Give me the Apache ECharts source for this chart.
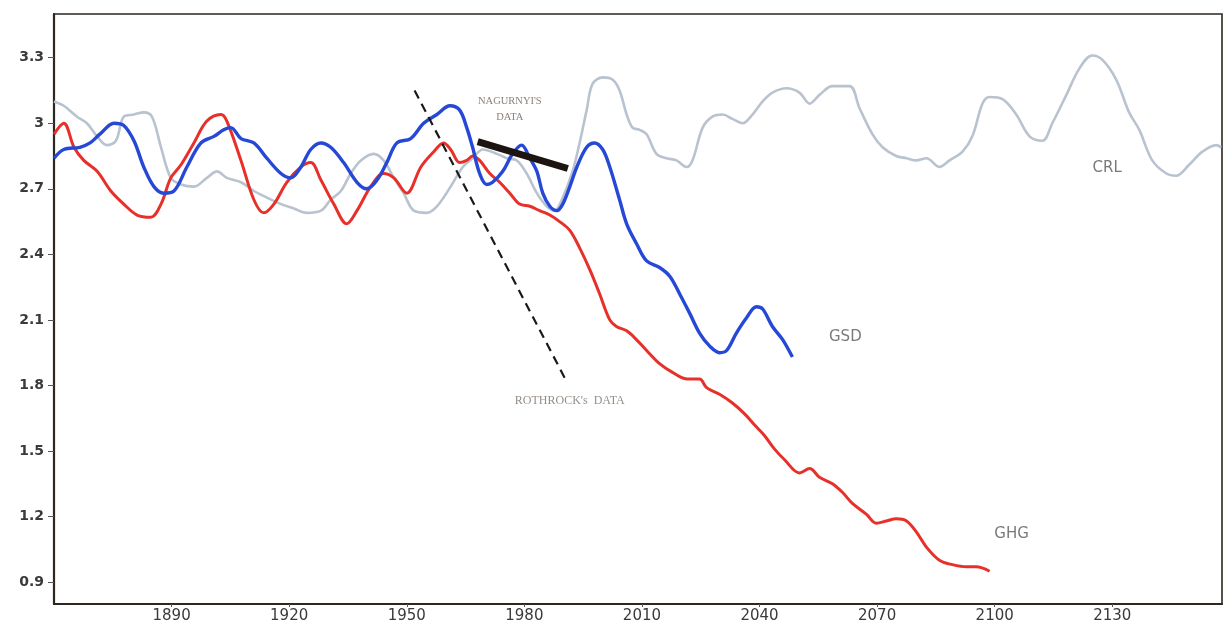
<!DOCTYPE html>
<html>
<head>
<meta charset="utf-8">
<script src="https://cdn.jsdelivr.net/npm/echarts@6/dist/echarts.min.js"></script>
<style>
  html, body { margin: 0; padding: 0; background: #ffffff; }
  #chart { width: 1226px; height: 621px; }
</style>
</head>
<body>
<div id="chart"></div>
<script>
// Axis tick labels
const yearTicks = [1890, 1920, 1950, 1980, 2010, 2040, 2070, 2100, 2130];
const valueTicks = [0.9, 1.2, 1.5, 1.8, 2.1, 2.4, 2.7, 3, 3.3];

// CRL series
const crlYears = [1860, 1862.5, 1865.9, 1868.4, 1871, 1873.5, 1875.8, 1877.8, 1880.4, 1882.9, 1885, 1887.3, 1889.8, 1892.4, 1895.7, 1899, 1901.6, 1904.1, 1907.7, 1911, 1914.3, 1917.9, 1921.2, 1924.5, 1928.1, 1930.6, 1933.2, 1935.7, 1938.3, 1941.6, 1944.1, 1946.7, 1949.2, 1951.8, 1955.1, 1957.7, 1961.2, 1964.3, 1966.8, 1969.4, 1973, 1975.5, 1978.1, 1980.6, 1983.2, 1985.7, 1987.7, 1989.8, 1992.3, 1994.1, 1995.9, 1997.4, 2000, 2002.5, 2004.3, 2006.1, 2007.6, 2009.4, 2011.2, 2013.7, 2016.3, 2018.8, 2021.4, 2022.9, 2025.5, 2028, 2030.6, 2033.1, 2035.7, 2038.2, 2040.8, 2043.3, 2046.9, 2050.2, 2052.8, 2055.3, 2058.6, 2063, 2065.5, 2068.8, 2071.4, 2074.9, 2077.5, 2080, 2082.6, 2085.9, 2088.5, 2091.8, 2094.3, 2096.9, 2098.7, 2102, 2105.5, 2108.9, 2112.2, 2114.7, 2118.3, 2121.6, 2124.9, 2127.5, 2131, 2134.3, 2136.9, 2140.2, 2143.8, 2146.3, 2149.6, 2153, 2156.5, 2157.8];
const crlValues = [3.10, 3.08, 3.03, 3.00, 2.94, 2.90, 2.92, 3.03, 3.04, 3.05, 3.03, 2.89, 2.75, 2.72, 2.71, 2.75, 2.78, 2.75, 2.73, 2.69, 2.66, 2.63, 2.61, 2.59, 2.60, 2.65, 2.69, 2.77, 2.83, 2.86, 2.83, 2.75, 2.68, 2.60, 2.59, 2.62, 2.71, 2.80, 2.84, 2.88, 2.86, 2.84, 2.83, 2.77, 2.68, 2.62, 2.60, 2.66, 2.78, 2.91, 3.06, 3.18, 3.21, 3.20, 3.15, 3.04, 2.98, 2.97, 2.95, 2.86, 2.84, 2.83, 2.80, 2.83, 2.98, 3.03, 3.04, 3.02, 3.00, 3.04, 3.10, 3.14, 3.16, 3.14, 3.09, 3.13, 3.17, 3.17, 3.07, 2.95, 2.89, 2.85, 2.84, 2.83, 2.84, 2.80, 2.83, 2.87, 2.94, 3.09, 3.12, 3.11, 3.04, 2.94, 2.92, 3.00, 3.13, 3.25, 3.31, 3.29, 3.20, 3.05, 2.97, 2.83, 2.77, 2.76, 2.81, 2.87, 2.90, 2.89];

// GSD series
const gsdYears = [1860, 1862.5, 1866.6, 1869.2, 1871.7, 1875.3, 1877.8, 1880.4, 1882.9, 1885.5, 1888, 1890.6, 1893.9, 1897.5, 1900.8, 1903.3, 1905.1, 1907.7, 1911, 1914.3, 1917.9, 1920.4, 1923, 1925.5, 1928.1, 1930.6, 1933.9, 1937.3, 1939.8, 1942.4, 1944.9, 1947.5, 1951, 1954.3, 1957.7, 1961, 1963.5, 1965.3, 1966.8, 1968.6, 1970.4, 1971.9, 1974.5, 1977, 1979.3, 1981.4, 1983.2, 1984.7, 1986.5, 1988.3, 1989.8, 1991.6, 1993.4, 1995.9, 1997.9, 2000, 2001.8, 2004.3, 2006.1, 2008.6, 2011.2, 2014.5, 2017.1, 2019.6, 2022.2, 2024.7, 2027.3, 2029.8, 2031.6, 2034.1, 2036.7, 2039.2, 2040.8, 2043.3, 2045.9, 2048.4];
const gsdValues = [2.84, 2.88, 2.89, 2.91, 2.95, 3.00, 2.99, 2.92, 2.80, 2.71, 2.68, 2.69, 2.80, 2.91, 2.94, 2.97, 2.98, 2.93, 2.91, 2.84, 2.77, 2.75, 2.80, 2.88, 2.91, 2.89, 2.82, 2.73, 2.70, 2.74, 2.82, 2.91, 2.93, 3.00, 3.04, 3.08, 3.06, 2.98, 2.89, 2.77, 2.72, 2.73, 2.78, 2.86, 2.90, 2.84, 2.78, 2.68, 2.62, 2.60, 2.63, 2.71, 2.80, 2.89, 2.91, 2.88, 2.80, 2.65, 2.54, 2.45, 2.37, 2.34, 2.30, 2.22, 2.13, 2.04, 1.98, 1.95, 1.96, 2.04, 2.11, 2.16, 2.15, 2.07, 2.01, 1.93];

// GHG series
const ghgYears = [1860, 1862.5, 1865.1, 1867.6, 1871, 1874.5, 1877.8, 1881.2, 1884.7, 1887.3, 1889.8, 1892.4, 1895.7, 1899, 1902.6, 1904.1, 1907.7, 1911, 1913.5, 1916.1, 1919.4, 1923, 1925.5, 1928.1, 1931.4, 1934.7, 1937.3, 1940.8, 1944.1, 1946.7, 1950, 1953.6, 1956.9, 1959.4, 1961.2, 1963.5, 1965.3, 1966.8, 1968.6, 1971.2, 1973.7, 1976.3, 1978.8, 1981.4, 1983.9, 1986.5, 1989, 1991.6, 1994.1, 1996.7, 1999.2, 2001.8, 2003.5, 2006.1, 2008.6, 2011.2, 2014.5, 2017.8, 2021.4, 2024.7, 2026.5, 2029.8, 2033.1, 2036.2, 2038.7, 2041.3, 2043.8, 2046.4, 2050.2, 2052.8, 2055.3, 2058.6, 2061.2, 2063.7, 2067.3, 2069.8, 2072.4, 2074.9, 2077.5, 2080, 2082.6, 2085.9, 2089.2, 2092.8, 2095.3, 2098.7];
const ghgValues = [2.95, 3.00, 2.89, 2.83, 2.78, 2.69, 2.63, 2.58, 2.57, 2.63, 2.75, 2.81, 2.91, 3.01, 3.04, 3.01, 2.83, 2.65, 2.59, 2.63, 2.73, 2.80, 2.82, 2.74, 2.63, 2.54, 2.60, 2.71, 2.77, 2.75, 2.68, 2.80, 2.87, 2.91, 2.88, 2.82, 2.83, 2.85, 2.83, 2.77, 2.73, 2.68, 2.63, 2.62, 2.60, 2.58, 2.55, 2.51, 2.43, 2.33, 2.22, 2.10, 2.07, 2.05, 2.01, 1.96, 1.90, 1.86, 1.83, 1.83, 1.79, 1.76, 1.72, 1.67, 1.62, 1.57, 1.51, 1.46, 1.40, 1.42, 1.38, 1.35, 1.31, 1.26, 1.21, 1.17, 1.18, 1.19, 1.18, 1.13, 1.06, 1.00, 0.98, 0.97, 0.97, 0.95];

// Rothrock's trend (dashed) and Nagurnyi's trend (heavy bar): end points [year, value]
const rothrockYears = [1952, 1990.3];
const rothrockValues = [3.15, 1.835];
const nagurnyiYears = [1968.1, 1991.1];
const nagurnyiValues = [2.916, 2.793];

const pairs = (xs, ys) => xs.map((x, i) => [x, ys[i]]);

// Text annotations anchored in data space
const notes = [
  { text: 'CRL', at: [2128.7, 2.793], font: 'sans' },
  { text: 'GSD', at: [2061.9, 2.022], font: 'sans' },
  { text: 'GHG', at: [2104.3, 1.119], font: 'sans' },
  { text: "NAGURNYI'S\nDATA", at: [1976.3, 3.062], font: 'serif' },
  { text: "ROTHROCK's  DATA", at: [1991.6, 1.730], font: 'serifWide' }
];

const noteStyle = {
  sans: { fontFamily: 'DejaVu Sans', fontSize: 15, color: '#585858' },
  serif: { fontFamily: 'Liberation Serif', fontSize: 10.5, color: '#6e6258' },
  serifWide: { fontFamily: 'Liberation Serif', fontSize: 12, color: '#7a7068' }
};

const chart = echarts.init(document.getElementById('chart'), null, { renderer: 'canvas' });

const option = {
  backgroundColor: '#ffffff',
  animation: false,
  grid: {
    left: 54, right: 4, top: 14, bottom: 17,
    outerBoundsMode: 'none', containLabel: false,
    show: true, borderColor: '#2e2620', borderWidth: 1.6, backgroundColor: 'transparent'
  },
  xAxis: {
    type: 'value', min: 1860, max: 2158,
    axisLine: { show: true, lineStyle: { color: '#2e2620', width: 2.2 } },
    axisTick: { show: true, customValues: yearTicks, length: 3, lineStyle: { color: '#555' } },
    axisLabel: {
      customValues: yearTicks, margin: 5, color: '#3a3a3a',
      fontFamily: 'DejaVu Sans', fontSize: 15, formatter: v => String(v)
    },
    splitLine: { show: false }
  },
  yAxis: {
    type: 'value', min: 0.8, max: 3.5,
    axisLine: { show: true, lineStyle: { color: '#2e2620', width: 2.2 } },
    axisTick: { show: true, customValues: valueTicks, length: 6, lineStyle: { color: '#555' } },
    axisLabel: {
      customValues: valueTicks, margin: 10, color: '#3a3a3a',
      fontFamily: 'DejaVu Sans', fontWeight: 'bold', fontSize: 14,
      formatter: v => String(v)
    },
    splitLine: { show: false }
  },
  series: [
    {
      name: 'CRL', type: 'line', data: pairs(crlYears, crlValues),
      showSymbol: false, smooth: 0.35, z: 2,
      lineStyle: { color: '#b9c3cf', width: 2.6 }
    },
    {
      name: 'GHG', type: 'line', data: pairs(ghgYears, ghgValues),
      showSymbol: false, smooth: 0.35, z: 3,
      lineStyle: { color: '#e8302a', width: 3 }
    },
    {
      name: 'GSD', type: 'line', data: pairs(gsdYears, gsdValues),
      showSymbol: false, smooth: 0.35, z: 4,
      lineStyle: { color: '#2648d6', width: 3.4 }
    },
    {
      name: 'Nagurnyi', type: 'line', data: pairs(nagurnyiYears, nagurnyiValues),
      showSymbol: false, z: 5,
      lineStyle: { color: '#1c1410', width: 7, cap: 'butt' }
    },
    {
      name: 'Rothrock', type: 'line', data: pairs(rothrockYears, rothrockValues),
      showSymbol: false, z: 6,
      lineStyle: { color: '#1a1a1a', width: 2.2, type: [9, 6] }
    },
    {
      name: 'notes', type: 'scatter', symbolSize: 0, z: 7,
      data: notes.map(n => ({
        value: n.at,
        label: Object.assign({
          show: true, position: 'inside', formatter: n.text,
          lineHeight: 16, align: 'center', verticalAlign: 'middle'
        }, noteStyle[n.font])
      }))
    }
  ]
};

chart.setOption(option);
</script>
</body>
</html>
